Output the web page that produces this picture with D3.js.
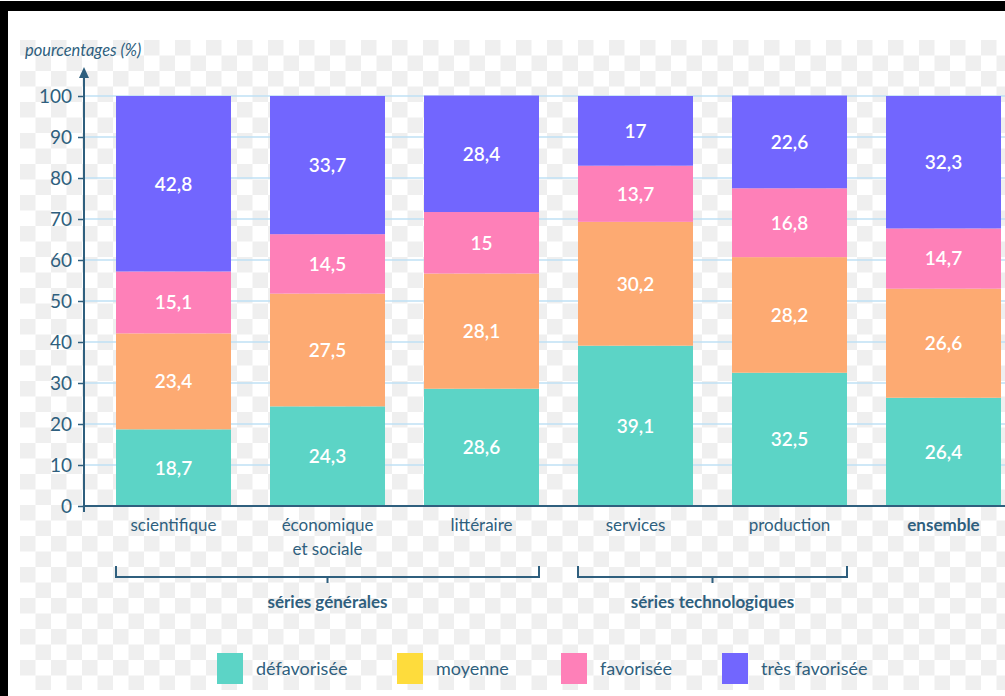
<!DOCTYPE html>
<html lang="fr">
<head>
<meta charset="UTF-8">
<title>Origine sociale par série</title>
<script src="https://cdn.jsdelivr.net/npm/d3@7"></script>
<style>
  body { margin: 0; background: #fff; }
  svg { display: block; font-family: Lato, "Open Sans", sans-serif; }
</style>
</head>
<body>
<div id="chart"></div>
<script>
// data
var categories = ["scientifique", "économique\net sociale", "littéraire", "services", "production", "ensemble"];
var defavorisee = [18.7, 24.3, 28.6, 39.1, 32.5, 26.4];
var moyenne = [23.4, 27.5, 28.1, 30.2, 28.2, 26.6];
var favorisee = [15.1, 14.5, 15, 13.7, 16.8, 14.7];
var tresFavorisee = [42.8, 33.7, 28.4, 17, 22.6, 32.3];
var seriesNames = ["défavorisée", "moyenne", "favorisée", "très favorisée"];
var yTicks = [0, 10, 20, 30, 40, 50, 60, 70, 80, 90, 100];
var groups = [
  { label: "séries générales", from: 0, to: 2 },
  { label: "séries technologiques", from: 3, to: 4 }
];

var W = 1005, H = 696;
var ink = "#2f5f7e";
var barColors = ["#5cd4c6", "#fdaa72", "#fe80b8", "#7266fe"];
var legendColors = ["#5cd4c6", "#fedc3c", "#fe80b8", "#7266fe"];

var table = categories.map(function (c, i) {
  return { cat: c, d0: defavorisee[i], d1: moyenne[i], d2: favorisee[i], d3: tresFavorisee[i] };
});
var keys = ["d0", "d1", "d2", "d3"];
var stacked = d3.stack().keys(keys)(table);

var svg = d3.select("#chart").append("svg")
  .attr("width", W).attr("height", H);

// checker background + frame
var defs = svg.append("defs");
var pat = defs.append("pattern").attr("id", "checker")
  .attr("patternUnits", "userSpaceOnUse")
  .attr("x", 20).attr("y", 40)
  .attr("width", 31).attr("height", 31);
pat.append("rect").attr("width", 31).attr("height", 31).attr("fill", "#ffffff");
pat.append("rect").attr("width", 15.5).attr("height", 15.5).attr("fill", "#efefef");
pat.append("rect").attr("x", 15.5).attr("y", 15.5).attr("width", 15.5).attr("height", 15.5).attr("fill", "#efefef");

svg.append("rect").attr("x", 20).attr("y", 40).attr("width", W - 20).attr("height", 650)
  .attr("fill", "url(#checker)");
svg.append("rect").attr("x", 0).attr("y", 1).attr("width", W).attr("height", 10).attr("fill", "#000");
svg.append("rect").attr("x", 0).attr("y", 1).attr("width", 8).attr("height", H).attr("fill", "#000");

// scales
var x = d3.scaleBand()
  .domain(categories)
  .range([96.5, 1020.5])
  .paddingInner(39 / 154)
  .paddingOuter(19.5 / 154);

var y = d3.scaleLinear().domain([0, 100]).range([506, 96]);

// gridlines
svg.append("g").selectAll("line")
  .data(yTicks.filter(function (t) { return t > 0; }))
  .join("line")
  .attr("x1", 84).attr("x2", W)
  .attr("y1", function (d) { return y(d); })
  .attr("y2", function (d) { return y(d); })
  .attr("stroke", "#bfe0f5").attr("stroke-width", 1.5);

// bars
svg.append("g").selectAll("g")
  .data(stacked)
  .join("g")
  .attr("fill", function (d, i) { return barColors[i]; })
  .selectAll("rect")
  .data(function (d) { return d; })
  .join("rect")
  .attr("x", function (d) { return x(d.data.cat); })
  .attr("y", function (d) { return y(d[1]); })
  .attr("width", x.bandwidth())
  .attr("height", function (d) { return y(d[0]) - y(d[1]); });

// value labels
svg.append("g").selectAll("g")
  .data(stacked)
  .join("g")
  .selectAll("text")
  .data(function (d) { return d.map(function (p) { return { p: p, key: d.key }; }); })
  .join("text")
  .attr("x", function (d) { return x(d.p.data.cat) + x.bandwidth() / 2; })
  .attr("y", function (d) { return y((d.p[0] + d.p[1]) / 2); })
  .attr("dy", "0.36em")
  .attr("text-anchor", "middle")
  .attr("fill", "#fff")
  .attr("font-size", 19)
  .attr("font-weight", 600)
  .text(function (d) { return String(d.p.data[d.key]).replace(".", ","); });

// y axis
var yAxis = svg.append("g")
  .attr("transform", "translate(84,0)")
  .call(d3.axisLeft(y).tickValues(yTicks).tickSize(6).tickPadding(6));
yAxis.select(".domain").remove();
yAxis.selectAll("line").attr("stroke", ink).attr("stroke-width", 1.5);
yAxis.selectAll("text").attr("fill", ink).attr("font-size", 19)
  .attr("font-family", "Lato, sans-serif");

svg.append("line").attr("x1", 84).attr("x2", 84).attr("y1", 76).attr("y2", 512)
  .attr("stroke", ink).attr("stroke-width", 2);
svg.append("path").attr("d", "M84,67 L79,78 L89,78 Z").attr("fill", ink);
svg.append("line").attr("x1", 84).attr("x2", W).attr("y1", y(0)).attr("y2", y(0))
  .attr("stroke", ink).attr("stroke-width", 2);

svg.append("text").attr("x", 25).attr("y", 56)
  .attr("fill", ink).attr("font-size", 16.5).attr("font-style", "italic")
  .text("pourcentages (%)");

// category labels
var catLab = svg.append("g").selectAll("text")
  .data(categories)
  .join("text")
  .attr("x", function (d) { return x(d) + x.bandwidth() / 2; })
  .attr("y", 531)
  .attr("text-anchor", "middle")
  .attr("fill", ink)
  .attr("font-size", 17)
  .attr("font-weight", function (d, i) { return i === categories.length - 1 ? 700 : 400; });
catLab.selectAll("tspan")
  .data(function (d) { return d.split("\n"); })
  .join("tspan")
  .attr("x", function () { var p = this.parentNode.__data__; return x(p) + x.bandwidth() / 2; })
  .attr("dy", function (d, i) { return i === 0 ? 0 : 24; })
  .text(function (d) { return d; });

// group brackets
var br = svg.append("g").selectAll("g").data(groups).join("g");
br.append("path")
  .attr("d", function (g) {
    var x0 = x(categories[g.from]), x1 = x(categories[g.to]) + x.bandwidth();
    var mid = (x0 + x1) / 2;
    return "M" + x0 + ",566 V577 H" + x1 + " V566 M" + mid + ",577 V583";
  })
  .attr("fill", "none").attr("stroke", ink).attr("stroke-width", 2);
br.append("text")
  .attr("x", function (g) { return (x(categories[g.from]) + x(categories[g.to]) + x.bandwidth()) / 2; })
  .attr("y", 608)
  .attr("text-anchor", "middle")
  .attr("fill", ink).attr("font-size", 17).attr("font-weight", 700)
  .text(function (g) { return g.label; });

// legend
var legendX = [217, 397, 561, 722];
var lg = svg.append("g").selectAll("g").data(seriesNames).join("g")
  .attr("transform", function (d, i) { return "translate(" + legendX[i] + ",653)"; });
lg.append("rect").attr("width", 26).attr("height", 31)
  .attr("fill", function (d, i) { return legendColors[i]; });
lg.append("text").attr("x", 39).attr("y", 16).attr("dy", "0.35em")
  .attr("fill", ink).attr("font-size", 18)
  .text(function (d) { return d; });
</script>
</body>
</html>
